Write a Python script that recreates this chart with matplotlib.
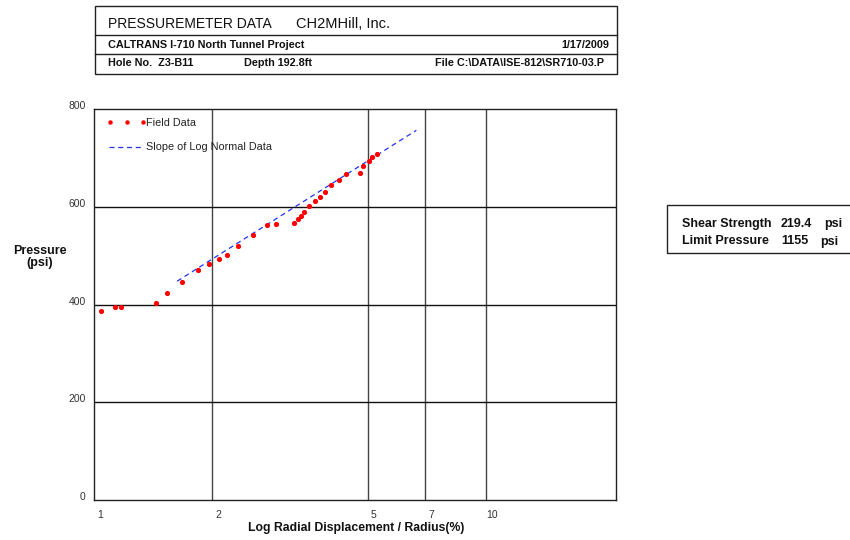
"""Pressuremeter test sheet: field data vs log radial displacement."""

import matplotlib
matplotlib.use("Agg")
import matplotlib.pyplot as plt
from matplotlib.patches import Rectangle
from matplotlib.transforms import ScaledTranslation

plt.rcParams["font.family"] = ["Liberation Sans", "DejaVu Sans"]

# field readings: radial displacement / radius (%) and pressure (psi)
strain_pct = [1.04, 1.13, 1.17, 1.44, 1.54, 1.68, 1.84, 1.97, 2.09, 2.19,
              2.33, 2.54, 2.76, 2.91, 3.24, 3.31, 3.37, 3.44, 3.54, 3.66,
              3.77, 3.89, 4.03, 4.21, 4.39, 4.77, 4.87, 5.02, 5.13, 5.29]
pressure_psi = [386, 395, 396, 404, 423, 446, 470, 483, 494, 502,
                520, 542, 563, 566, 568, 576, 581, 589, 601, 612,
                621, 631, 644, 656, 667, 669, 683, 694, 702, 709]

# log-normal slope line end points
slope_x = [1.63, 6.65]
slope_y = [448, 757]

x_ticks = [1, 2, 5, 7, 10]
x_grid = [2, 5, 7, 10]
y_ticks = [0, 200, 400, 600, 800]
y_grid = [200, 400, 600]

W, H = 850, 540
fig = plt.figure(figsize=(8.5, 5.4), dpi=100)


def fx(px):
    return px / W


def fy(py):
    return 1 - py / H


# ---- header block ----
hdr = dict(lw=1.0, color="#222")
fig.add_artist(Rectangle((fx(94.5), fy(74)), fx(616.5) - fx(94.5), fy(6) - fy(74),
                         fill=False, transform=fig.transFigure, **hdr))
for yy in (34.5, 54):
    fig.add_artist(plt.Line2D([fx(94.5), fx(616.5)], [fy(yy), fy(yy)],
                              transform=fig.transFigure, **hdr))
row = dict(fontsize=7.8, fontweight="bold", va="center", color="#111")
fig.text(fx(108), fy(24), "PRESSUREMETER DATA", fontsize=10, va="center", color="#111")
fig.text(fx(296), fy(24), "CH2MHill, Inc.", fontsize=10.5, va="center", color="#111")
fig.text(fx(108), fy(44.5), "CALTRANS I-710 North Tunnel Project", **row)
fig.text(fx(609), fy(44.5), "1/17/2009", ha="right", **row)
fig.text(fx(108), fy(63.5), "Hole No.  Z3-B11", **row)
fig.text(fx(244), fy(63.5), "Depth 192.8ft", **row)
fig.text(fx(604), fy(63.5), "File C:\\DATA\\ISE-812\\SR710-03.P", ha="right", **row)

# ---- result box on the right ----
fig.add_artist(Rectangle((fx(667), fy(253)), fx(880) - fx(667), fy(205.5) - fy(253),
                         fill=False, transform=fig.transFigure, lw=1.0, color="#222"))
res = dict(fontsize=9, fontweight="bold", va="center", color="#111")
fig.text(fx(682), fy(224), "Shear Strength", **res)
fig.text(fx(781), fy(224), "219.4", **res)
fig.text(fx(824), fy(224), "psi", **res)
fig.text(fx(682), fy(241.5), "Limit Pressure", **res)
fig.text(fx(781), fy(241.5), "1155", **res)
fig.text(fx(820), fy(241.5), "psi", **res)

# ---- main plot ----
ax = fig.add_axes([fx(94), fy(500), fx(616) - fx(94), fy(109.3) - fy(500)])
ax.set_xscale("log")
ax.set_xlim(1, 21.5)
ax.set_ylim(0, 800)

for g in x_grid:
    ax.axvline(g, color="#444", lw=1.0, zorder=1)
for g in y_grid:
    ax.axhline(g, color="#111", lw=1.0, zorder=1)
for s in ax.spines.values():
    s.set_color("#222")
    s.set_linewidth(1.0)

ax.plot(slope_x, slope_y, ls=(0, (4, 3)), color="#2233ee", lw=0.9, zorder=2,
        label="Slope of Log Normal Data")
ax.plot(strain_pct, pressure_psi, ls="none", marker="o", ms=2.7, color="red",
        zorder=3, label="Field Data")

ax.set_xticks(x_ticks)
ax.set_xticklabels([str(t) for t in x_ticks])
ax.xaxis.set_minor_locator(matplotlib.ticker.NullLocator())
ax.set_yticks(y_ticks)
ax.tick_params(length=0, labelsize=7.5, labelcolor="#333")
ax.tick_params(axis="x", pad=7)
ax.tick_params(axis="y", pad=6)
for lab in ax.get_xticklabels():
    lab.set_transform(lab.get_transform() + ScaledTranslation(0.06, 0, fig.dpi_scale_trans))
for lab in ax.get_yticklabels():
    lab.set_transform(lab.get_transform() + ScaledTranslation(0, 0.04, fig.dpi_scale_trans))

# legend drawn by hand at the top-left of the plot
fig.add_artist(plt.Line2D([fx(110), fx(127), fx(143)], [fy(122)] * 3, ls="none",
                          marker="o", ms=2.2, color="red", transform=fig.transFigure))
fig.text(fx(146), fy(122.5), "Field Data", fontsize=7.8, va="center", color="#222")
fig.add_artist(plt.Line2D([fx(109), fx(143)], [fy(147)] * 2, ls=(0, (4, 3)), lw=0.9,
                          color="#2233ee", transform=fig.transFigure))
fig.text(fx(146), fy(146.5), "Slope of Log Normal Data", fontsize=7.8, va="center",
         color="#222")

fig.text(fx(40), fy(257), "Pressure\n(psi)", fontsize=9, fontweight="bold",
         ha="center", va="center", linespacing=1.05, color="#111")
fig.text(fx(356), fy(528), "Log Radial Displacement / Radius(%)", fontsize=8.8,
         fontweight="bold", ha="center", va="center", color="#111")

fig.savefig("out.png", dpi=100)
